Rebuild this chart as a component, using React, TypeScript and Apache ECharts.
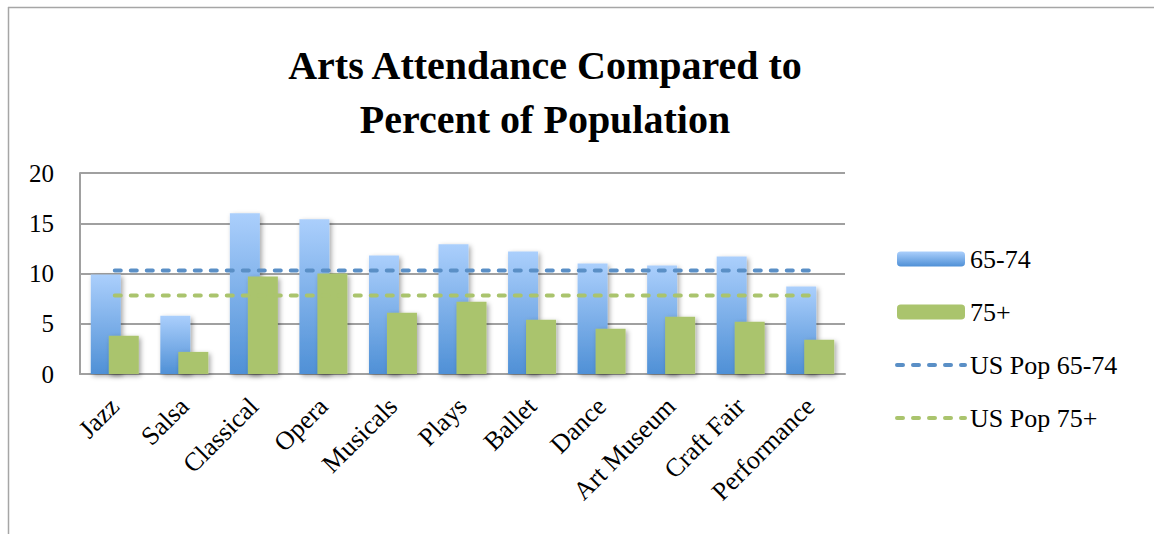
import React, { useEffect, useRef } from "react";
import * as echarts from "echarts";

const categories = ["Jazz", "Salsa", "Classical", "Opera", "Musicals", "Plays", "Ballet", "Dance", "Art Museum", "Craft Fair", "Performance"];
const age6574 = [9.9, 5.8, 16.0, 15.4, 11.8, 12.9, 12.2, 11.0, 10.8, 11.7, 8.7];
const age75plus = [3.8, 2.2, 9.7, 10.0, 6.1, 7.2, 5.4, 4.5, 5.7, 5.2, 3.4];
const usPop6574 = [10.3, 10.3, 10.3, 10.3, 10.3, 10.3, 10.3, 10.3, 10.3, 10.3, 10.3];
const usPop75plus = [7.8, 7.8, 7.8, 7.8, 7.8, 7.8, 7.8, 7.8, 7.8, 7.8, 7.8];
const yTicks = [0, 5, 10, 15, 20];

const SERIF = "'Liberation Serif', 'DejaVu Serif', serif";
const BLUE_LINE = "#5a8fc6";
const GREEN = "#aac46d";

export default function App() {
  const ref = useRef<HTMLDivElement>(null);
  useEffect(() => {
    if (!ref.current) return;
    const chart = echarts.init(ref.current, null, { renderer: "svg" });
    const blueGrad = new echarts.graphic.LinearGradient(0, 0, 0, 1, [
      { offset: 0, color: "#abcffc" },
      { offset: 1, color: "#4f90d6" },
    ]);
    const shadow = {
      shadowBlur: 5,
      shadowColor: "rgba(0,0,0,0.35)",
      shadowOffsetX: 2,
      shadowOffsetY: 2,
    };
    const dashStyle = (color: string) => ({ color, width: 4, type: [6, 10], cap: "round" });
    chart.setOption({
      animation: false,
      backgroundColor: "#ffffff",
      title: {
        text: "Arts Attendance Compared to\nPercent of Population",
        left: 540,
        top: 33,
        textAlign: "center",
        textStyle: {
          fontFamily: SERIF,
          fontWeight: "bold",
          fontSize: 40,
          lineHeight: 54,
          color: "#000000",
        },
      },
      graphic: [
        { type: "line", shape: { x1: 8, y1: 7.5, x2: 1154, y2: 7.5 }, style: { stroke: "#a6a6a6", lineWidth: 1.5 } },
        { type: "line", shape: { x1: 8.5, y1: 7, x2: 8.5, y2: 534 }, style: { stroke: "#a6a6a6", lineWidth: 1.5 } },
      ],
      legend: {
        orient: "vertical",
        left: 895,
        top: 246,
        itemWidth: 68,
        itemHeight: 15,
        itemGap: 27,
        padding: 0,
        textStyle: { fontFamily: SERIF, fontSize: 26, color: "#000000" },
        data: [
          { name: "65-74" },
          { name: "75+" },
          { name: "US Pop 65-74", itemStyle: { opacity: 0 }, lineStyle: dashStyle(BLUE_LINE) },
          { name: "US Pop 75+", itemStyle: { opacity: 0 }, lineStyle: dashStyle(GREEN) },
        ],
      },
      grid: { left: 80, right: 309, top: 173, bottom: 160, containLabel: false },
      xAxis: {
        type: "category",
        data: categories,
        boundaryGap: true,
        axisLine: { lineStyle: { color: "#a0a0a0", width: 2 } },
        axisTick: { show: false },
        axisLabel: {
          interval: 0,
          rotate: 45,
          margin: 28,
          fontFamily: SERIF,
          fontSize: 26,
          color: "#000000",
        },
      },
      yAxis: {
        type: "value",
        min: 0,
        max: 20,
        interval: 5,
        axisLine: { show: true, lineStyle: { color: "#a0a0a0", width: 2 } },
        axisTick: { show: false },
        splitLine: { lineStyle: { color: "#a0a0a0", width: 2 } },
        axisLabel: {
          margin: 26,
          fontFamily: SERIF,
          fontSize: 25,
          color: "#000000",
          formatter: (v: number) => (yTicks.includes(v) ? String(v) : ""),
        },
      },
      series: [
        {
          name: "65-74",
          type: "bar",
          data: age6574,
          barWidth: 30,
          barGap: "-40%",
          itemStyle: { color: blueGrad, ...shadow },
        },
        {
          name: "75+",
          type: "bar",
          data: age75plus,
          barWidth: 30,
          itemStyle: { color: GREEN, ...shadow },
        },
        {
          name: "US Pop 65-74",
          type: "line",
          data: usPop6574,
          symbol: "none",
          z: 5,
          itemStyle: { color: BLUE_LINE },
          lineStyle: dashStyle(BLUE_LINE),
        },
        {
          name: "US Pop 75+",
          type: "line",
          data: usPop75plus,
          symbol: "none",
          z: 5,
          itemStyle: { color: GREEN },
          lineStyle: dashStyle(GREEN),
        },
      ],
    });
    return () => chart.dispose();
  }, []);
  return (
    <div
      ref={ref}
      style={{ position: "absolute", left: 0, top: 0, width: 1154, height: 534 }}
    />
  );
}
